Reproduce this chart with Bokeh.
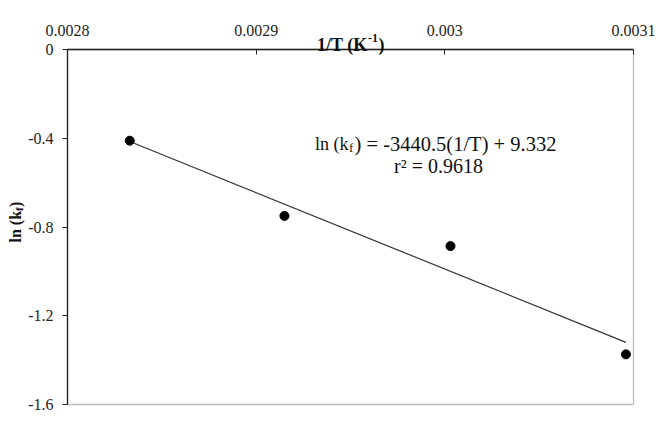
import numpy as np
from bokeh.plotting import figure
from bokeh.models import (Range1d, FixedTicker, CustomJSTickFormatter, Label,
                          LinearAxis, BoxAnnotation)
from bokeh.embed import file_html
from bokeh.resources import INLINE

# ---- data ----
inv_T = [0.002833, 0.002915, 0.003003, 0.003096]   # 1/T (K^-1)
ln_kf = [-0.411, -0.750, -0.886, -1.374]            # ln(kf)
slope = -3440.5
intercept = 9.332
r2 = 0.9618
x_ticks = [0.0028, 0.0029, 0.0030, 0.0031]
y_ticks = [0, -0.4, -0.8, -1.2, -1.6]
x_lo, x_hi = 0.0028, 0.0031
y_lo, y_hi = -1.6, 0.0

trend_x = np.array([min(inv_T), max(inv_T)])
trend_y = slope * trend_x + intercept

SERIF = "Liberation Serif"
W, H = 660, 420
# pixel placement of the plotting box on the canvas
PL, PR, PT, PB = 67, 633, 49, 404
kx = (x_hi - x_lo) / (PR - PL)
ky = (y_hi - y_lo) / (PB - PT)

p = figure(width=W, height=H, output_backend="svg", toolbar_location=None,
           x_range=Range1d(x_lo - PL * kx, x_lo + (W - PL) * kx),
           y_range=Range1d(y_lo - (H - PB) * ky, y_hi + PT * ky),
           x_axis_type=None, y_axis_type=None)
p.min_border = 0
p.min_border_left = p.min_border_right = p.min_border_top = p.min_border_bottom = 0
p.xgrid.visible = False
p.ygrid.visible = False
p.outline_line_color = None
p.background_fill_color = "white"
p.border_fill_color = "white"

fmt = CustomJSTickFormatter(code="return String(parseFloat(tick.toPrecision(6)))")

xa = LinearAxis(fixed_location=y_hi, bounds=(x_lo, x_hi),
                ticker=FixedTicker(ticks=x_ticks), formatter=fmt)
xa.major_tick_in = 5
xa.major_tick_out = 0
xa.minor_tick_line_color = None
xa.major_label_standoff = 14
p.add_layout(xa, "above")

ya = LinearAxis(fixed_location=x_lo, bounds=(y_lo, y_hi),
                ticker=FixedTicker(ticks=y_ticks), formatter=fmt)
ya.major_tick_in = 0
ya.major_tick_out = 5
ya.minor_tick_line_color = None
ya.major_label_standoff = 9
p.add_layout(ya, "left")

for ax in (xa, ya):
    ax.axis_line_color = "#222222"
    ax.axis_line_width = 1.3
    ax.major_tick_line_color = "#222222"
    ax.major_label_text_font = SERIF
    ax.major_label_text_font_size = "16px"
    ax.major_label_text_color = "#222222"

# plot box (right and bottom edges)
p.add_layout(BoxAnnotation(left=x_lo, right=x_hi, bottom=y_lo, top=y_hi,
                           fill_color=None, line_color="#222222", line_width=1.3))

# trend line and points
p.line(trend_x, trend_y, line_color="#333333", line_width=1.2)
p.scatter(inv_T, ln_kf, size=9, fill_color="black", line_color="black")

# helpers converting canvas pixel positions to data coordinates (text placement only)
def dx(ix):
    return x_lo + (ix - PL) * kx

def dy(iy):
    return y_hi - (iy - PT) * ky

def lab(text, ix, iy, size, bold=False, align="left", angle=0.0):
    p.add_layout(Label(x=dx(ix), y=dy(iy), text=text, text_font=SERIF,
                       text_font_size=f"{size}px",
                       text_font_style="bold" if bold else "normal",
                       text_align=align, text_baseline="alphabetic",
                       text_color="#111111", angle=angle))

# x axis title: 1/T (K^-1)
lab("1/T (K", 367, 44, 18, bold=True, align="right")
lab("-1", 367.5, 37, 12, bold=True)
lab(")", 378, 44, 18, bold=True)

# y axis title: ln (k_f), rotated
a = np.pi / 2
lab("ln (k", 14.5, 242, 16, bold=True, angle=a)
lab("f", 18, 210.5, 11, bold=True, angle=a)
lab(")", 14.5, 206.5, 16, bold=True, angle=a)

# equation
lab("ln (k", 348, 143, 18, align="right")
lab("f", 348.5, 147, 13)
lab(") = %s(1/T) + %s" % (slope, intercept), 354, 143, 20.5)
lab("r\u00b2 = %s" % r2, 438, 165, 20, align="center")

open("out.html", "w").write(file_html(p, INLINE))
